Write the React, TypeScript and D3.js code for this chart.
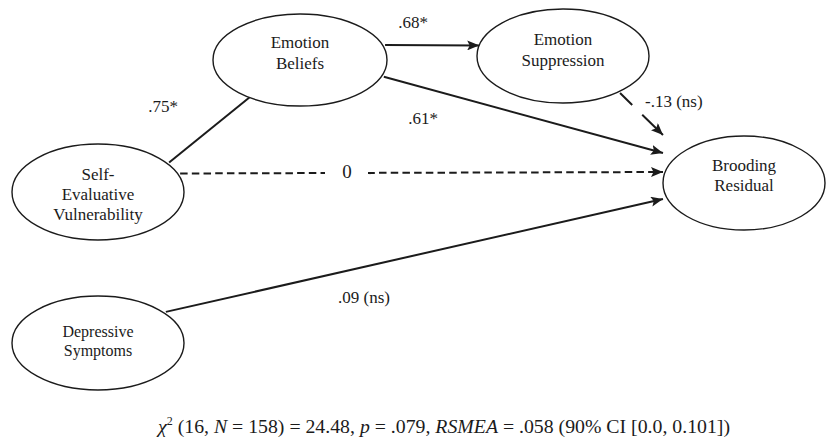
import React from 'react'
import * as d3 from 'd3'

// model variables (ellipses) and their text lines
const nodeIds = ['eb', 'es', 'br', 'sev', 'ds']
const nodeLines = [
  ['Emotion', 'Beliefs'],
  ['Emotion', 'Suppression'],
  ['Brooding', 'Residual'],
  ['Self-', 'Evaluative', 'Vulnerability'],
  ['Depressive', 'Symptoms'],
]

// paths and standardized coefficients
const pathFrom = ['sev', 'eb', 'eb', 'es', 'sev', 'ds']
const pathTo = ['eb', 'es', 'br', 'br', 'br', 'br']
const pathCoef = ['.75*', '.68*', '.61*', '-.13 (ns)', '0', '.09 (ns)']
const pathArrow = [false, true, true, true, true, true]
const pathDashed = [false, false, false, false, true, false]

// fit statistics
const chiDf = 16
const sampleN = 158
const chiValue = '24.48'
const pValue = '.079'
const rmseaValue = '.058'
const rmseaCI = ['0.0', '0.101']

// layout of the diagram (pixels)
const nodeLayout: Record<string, { cx: number; cy: number; rx: number; ry: number; ty: number; fs: number; lh: number }> = {
  eb: { cx: 300, cy: 60, rx: 87, ry: 46, ty: -7, fs: 17, lh: 21 },
  es: { cx: 563, cy: 56, rx: 86, ry: 47, ty: -6, fs: 17, lh: 21 },
  br: { cx: 744, cy: 183, rx: 81, ry: 47, ty: -8, fs: 17, lh: 20 },
  sev: { cx: 98, cy: 192, rx: 86, ry: 48, ty: 2, fs: 17, lh: 20 },
  ds: { cx: 98, cy: 343, rx: 86, ry: 47, ty: -2, fs: 16, lh: 19 },
}
// start angle on source ellipse, end angle on target (or offset from target's left edge)
const edgeLayout = [
  { a0: -36.6, a1: 125.6, lx: 163, ly: 112, anchor: 'middle' },
  { a0: -18.3, a1: 193, lx: 413, ly: 28, anchor: 'middle' },
  { a0: 20.7, tipDy: -30, lx: 423, ly: 124, anchor: 'middle' },
  { a0: 49.9, tipDy: -48, lx: 645, ly: 107, anchor: 'start', dash: '17,14,200' },
  { a0: -22, tipDy: -11, lx: 347, ly: 178, anchor: 'middle', dash: '7.5,4.2', gap: [325, 368] },
  { a0: -40, tipDy: 16, lx: 364, ly: 303, anchor: 'middle' },
]

const W = 826
const H = 443
const ink = '#1b1b1b'
const serif = '"Liberation Serif", "Times New Roman", serif'

const onEllipse = (id: string, deg: number, k = 1): [number, number] => {
  const n = nodeLayout[id]
  const r = (deg * Math.PI) / 180
  return [n.cx + n.rx * k * Math.cos(r), n.cy + n.ry * k * Math.sin(r)]
}

export default function App() {
  const line = d3.line<[number, number]>().x(d => d[0]).y(d => d[1])

  const edges = pathFrom.map((from, i) => {
    const g = edgeLayout[i]
    const to = pathTo[i]
    const p0 = onEllipse(from, g.a0, 1.03)
    let p1: [number, number]
    if (g.a1 !== undefined) {
      p1 = onEllipse(to, g.a1, 1.0)
    } else {
      const n = nodeLayout[to]
      p1 = [n.cx - n.rx, n.cy + (g.tipDy as number)]
    }
    return { p0, p1, g, i }
  })

  return (
    <svg width={W} height={H} style={{ display: 'block', position: 'absolute', left: 0, top: 0, background: '#fff' }}>
      <defs>
        <marker id="arrow" viewBox="0 0 12 10" refX="12" refY="5" markerWidth="12" markerHeight="10"
          markerUnits="userSpaceOnUse" orient="auto">
          <path d="M0,0 L12,5 L0,10 L2.5,5 z" fill={ink} />
        </marker>
      </defs>

      {edges.map(({ p0, p1, g, i }) => (
        <g key={'e' + i}>
          <path
            d={line([p0, p1]) || ''}
            fill="none"
            stroke={ink}
            strokeWidth={2}
            strokeDasharray={g.dash}
            markerEnd={pathArrow[i] ? 'url(#arrow)' : undefined}
          />
          {g.gap && (
            <rect x={g.gap[0]} y={p0[1] - 6} width={g.gap[1] - g.gap[0]} height={12} fill="#fff" />
          )}
          {g.gap && <circle cx={g.gap[1] + 2} cy={p0[1]} r={0.8} fill={ink} />}
          <text
            x={g.lx}
            y={g.ly}
            textAnchor={g.anchor}
            fontFamily={serif}
            fontSize={pathDashed[i] ? 19 : 17}
            fill={ink}
          >
            {pathCoef[i]}
          </text>
        </g>
      ))}

      {nodeIds.map((id, i) => {
        const n = nodeLayout[id]
        const lines = nodeLines[i]
        const top = n.cy + n.ty - ((lines.length - 1) * n.lh) / 2
        return (
          <g key={id}>
            <ellipse cx={n.cx} cy={n.cy} rx={n.rx} ry={n.ry} fill="#fff" stroke={ink} strokeWidth={1.4} />
            {lines.map((t, j) => (
              <text
                key={j}
                x={n.cx}
                y={top + j * n.lh + n.fs * 0.35}
                textAnchor="middle"
                fontFamily={serif}
                fontSize={n.fs}
                fill={ink}
              >
                {t}
              </text>
            ))}
          </g>
        )
      })}

      <text x={158} y={433} fontFamily={serif} fontSize={19.8} fill={ink}>
        <tspan fontStyle="italic">χ</tspan>
        <tspan fontSize={12} dy={-8}>2</tspan>
        <tspan dy={8}>{` (${chiDf}, `}</tspan>
        <tspan fontStyle="italic">N</tspan>
        <tspan>{` = ${sampleN}) = ${chiValue}, `}</tspan>
        <tspan fontStyle="italic">p</tspan>
        <tspan>{` = ${pValue}, `}</tspan>
        <tspan fontStyle="italic">RSMEA</tspan>
        <tspan>{` = ${rmseaValue} (90% CI [${rmseaCI[0]}, ${rmseaCI[1]}])`}</tspan>
      </text>
    </svg>
  )
}
